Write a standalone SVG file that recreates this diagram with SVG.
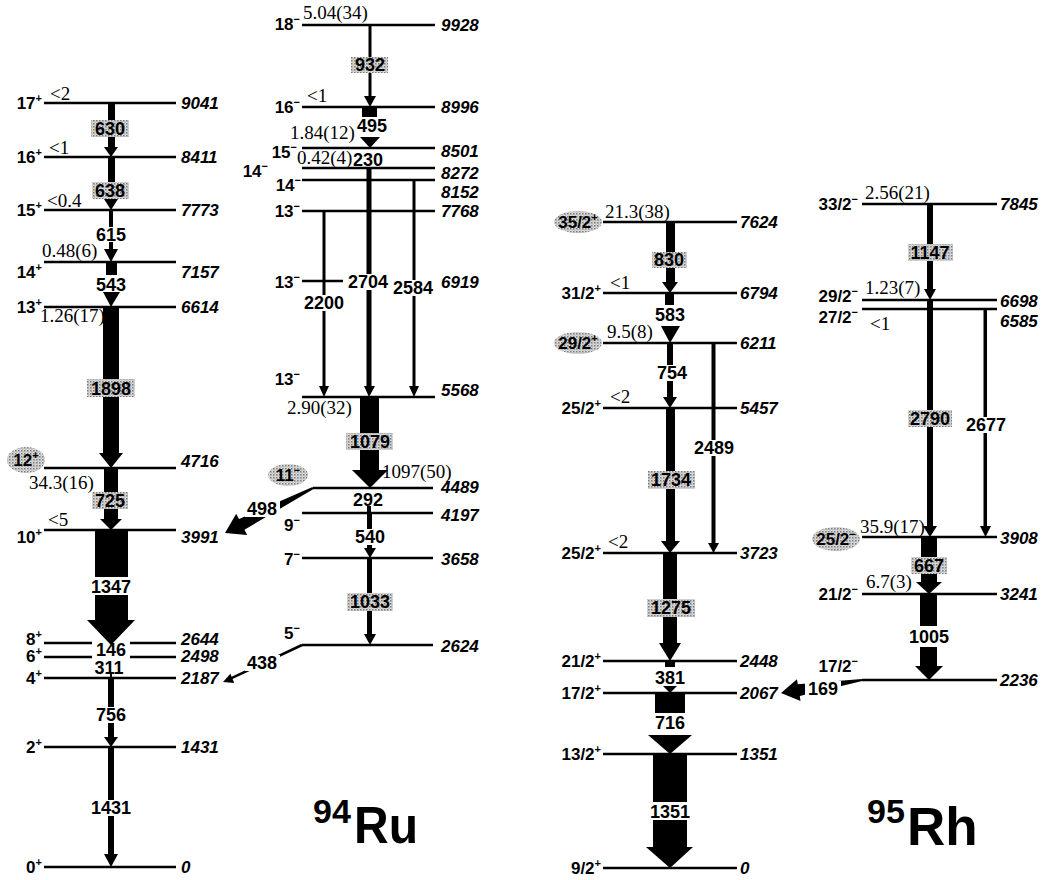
<svg xmlns="http://www.w3.org/2000/svg" width="1046" height="880" viewBox="0 0 1046 880">
<defs>
<pattern id="dots" width="3" height="3" patternUnits="userSpaceOnUse">
<rect width="3" height="3" fill="#dcdcdc"/>
<rect width="1.5" height="1.5" fill="#7a7a7a"/>
<rect x="1.5" y="1.5" width="1" height="1" fill="#9a9a9a"/>
</pattern>
<style>
.lv{stroke:#000;stroke-width:2.5;fill:none}
.sp{font-family:"Liberation Sans",Arial,sans-serif;font-weight:bold;font-size:17px;text-anchor:end;fill:#000}
.spc{font-family:"Liberation Sans",Arial,sans-serif;font-weight:bold;font-size:17px;text-anchor:middle;fill:#000}
.sup{font-size:11px}
.en{font-family:"Liberation Sans",Arial,sans-serif;font-weight:bold;font-style:italic;font-size:17px;fill:#000}
.in{font-family:"Liberation Serif","Times New Roman",serif;font-size:19px;fill:#000}
.tr{font-family:"Liberation Sans",Arial,sans-serif;font-weight:bold;font-size:18px;text-anchor:middle;fill:#000}
.bx{fill:url(#dots)}
.ov{fill:url(#dots)}
.wb{fill:#fff}
.ar{fill:#000}
.sl{stroke:#000;stroke-width:2.5;fill:none}
.nuc{font-family:"Liberation Sans",Arial,sans-serif;font-weight:bold;fill:#000}
</style>
</defs>
<rect width="1046" height="880" fill="#fff"/>

<g id="connectors">
<!-- 94Ru ground band -->
<rect class="ar" x="108" y="103" width="7" height="45"/>
<polygon class="ar" points="104,147 118,147 111,157"/>
<rect class="bx" x="91" y="120" width="38" height="17"/>
<text class="tr" x="110" y="135">630</text>

<rect class="ar" x="108" y="157" width="7" height="42"/>
<polygon class="ar" points="104,199 118,199 111,210"/>
<rect class="bx" x="92" y="182" width="37" height="17"/>
<text class="tr" x="110" y="197">638</text>

<rect class="ar" x="109" y="210" width="4" height="40"/>
<polygon class="ar" points="104,249 118,249 111,262"/>
<rect class="wb" x="95" y="227" width="32" height="15"/>
<text class="tr" x="111" y="241">615</text>

<rect class="ar" x="106" y="262" width="11" height="13"/>
<polygon class="ar" points="103,292 120,292 111,307"/>
<text class="tr" x="111" y="291">543</text>

<rect class="ar" x="103" y="307" width="16" height="147"/>
<polygon class="ar" points="99,453 123,453 111,468"/>
<rect class="bx" x="87" y="379" width="48" height="18"/>
<text class="tr" x="111" y="395">1898</text>

<rect class="ar" x="104" y="468" width="14" height="52"/>
<polygon class="ar" points="100,519 122,519 111,530"/>
<rect class="bx" x="92" y="492" width="36" height="17"/>
<text class="tr" x="110" y="507">725</text>

<rect class="ar" x="95" y="530" width="33" height="47"/>
<rect class="ar" x="95" y="595" width="33" height="26"/>
<polygon class="ar" points="87,620 135,620 111,645"/>
<text class="tr" x="111" y="593">1347</text>

<text class="tr" x="111" y="656">146</text>
<rect class="ar" x="110" y="674" width="2" height="4"/>
<text class="tr" x="109" y="674">311</text>

<rect class="ar" x="108" y="678" width="6" height="60"/>
<polygon class="ar" points="104,737 118,737 111,747"/>
<rect class="wb" x="94" y="707" width="34" height="16"/>
<text class="tr" x="111" y="721">756</text>

<rect class="ar" x="108" y="747" width="6" height="108"/>
<polygon class="ar" points="104,854 118,854 111,867"/>
<rect class="wb" x="90" y="800" width="42" height="16"/>
<text class="tr" x="111" y="814">1431</text>

<!-- 94Ru side band -->
<rect class="ar" x="368.5" y="25" width="3" height="72"/>
<polygon class="ar" points="364,96 376,96 370,107"/>
<rect class="bx" x="351" y="57" width="37" height="16"/>
<text class="tr" x="370" y="71">932</text>

<rect class="ar" x="362" y="107" width="15" height="10"/>
<polygon class="ar" points="360,137 380,137 370,148"/>
<text class="tr" x="372" y="132">495</text>

<text class="tr" x="368" y="166">230</text>

<rect class="ar" x="366.5" y="168" width="5" height="219"/>
<polygon class="ar" points="364,386 375,386 369,397"/>
<rect class="wb" x="347" y="274" width="43" height="16"/>
<text class="tr" x="368" y="288">2704</text>

<rect class="ar" x="412.5" y="180" width="3" height="207"/>
<polygon class="ar" points="409,386 419,386 414,397"/>
<rect class="wb" x="392" y="280" width="43" height="16"/>
<text class="tr" x="413" y="294">2584</text>

<rect class="ar" x="322.5" y="211" width="3" height="176"/>
<polygon class="ar" points="319,386 329,386 324,397"/>
<rect class="wb" x="302" y="295" width="44" height="16"/>
<text class="tr" x="324" y="309">2200</text>

<rect class="ar" x="360" y="397" width="19" height="74"/>
<polygon class="ar" points="352,470 388,470 370,488"/>
<rect class="bx" x="346" y="433" width="47" height="17"/>
<text class="tr" x="370" y="448">1079</text>

<rect class="ar" x="367" y="506" width="4" height="7"/>
<text class="tr" x="368" y="506">292</text>

<polygon class="ar" points="312.5,487.1 239,519.1 236.2,513.7 225,533 247.2,535.1 244.4,529.8 313.5,488.9"/>
<rect class="wb" x="245" y="501" width="35" height="16"/>
<text class="tr" x="262" y="515">498</text>

<rect class="ar" x="367" y="513" width="5" height="36"/>
<polygon class="ar" points="364,548 376,548 370,558"/>
<rect class="wb" x="353" y="529" width="34" height="16"/>
<text class="tr" x="370" y="543">540</text>

<rect class="ar" x="367" y="558" width="5" height="77"/>
<polygon class="ar" points="364,634 376,634 370,645"/>
<rect class="bx" x="347" y="593" width="46" height="18"/>
<text class="tr" x="370" y="608">1033</text>

<line class="sl" x1="302" y1="645" x2="231" y2="678.3"/>
<polygon class="ar" points="223,682 234.2,682.9 230.4,673.7"/>
<rect class="wb" x="245" y="655" width="35" height="16"/>
<text class="tr" x="262" y="669">438</text>

<!-- 95Rh positive parity band -->
<rect class="ar" x="666" y="222" width="9" height="61"/>
<polygon class="ar" points="662,282 678,282 670,293"/>
<rect class="bx" x="652" y="252" width="35" height="16"/>
<text class="tr" x="669" y="266">830</text>

<rect class="ar" x="665" y="293" width="9" height="12"/>
<polygon class="ar" points="661,326 680,326 670,343"/>
<text class="tr" x="670" y="321">583</text>

<rect class="ar" x="667" y="343" width="6" height="55"/>
<polygon class="ar" points="663,397 677,397 670,408"/>
<rect class="wb" x="655" y="365" width="34" height="16"/>
<text class="tr" x="672" y="379">754</text>

<rect class="ar" x="711.5" y="343" width="4" height="201"/>
<polygon class="ar" points="708,543 719,543 713.5,553"/>
<rect class="wb" x="692" y="440" width="44" height="16"/>
<text class="tr" x="714" y="454">2489</text>

<rect class="ar" x="666" y="408" width="9" height="134"/>
<polygon class="ar" points="661,541 680,541 670,553"/>
<rect class="bx" x="648" y="471" width="47" height="18"/>
<text class="tr" x="671" y="486">1734</text>

<rect class="ar" x="663" y="553" width="14" height="91"/>
<polygon class="ar" points="659,643 681,643 670,661"/>
<rect class="bx" x="647" y="599" width="48" height="18"/>
<text class="tr" x="671" y="614">1275</text>

<rect class="ar" x="665" y="661" width="10" height="6"/>
<polygon class="ar" points="663,686 677,686 670,693"/>
<text class="tr" x="670" y="684">381</text>

<rect class="ar" x="655" y="693" width="30" height="20"/>
<polygon class="ar" points="648,735 692,735 670,754"/>
<text class="tr" x="670" y="729">716</text>

<rect class="ar" x="653" y="754" width="34" height="48"/>
<rect class="ar" x="653" y="820" width="34" height="28"/>
<polygon class="ar" points="646,847 693,847 670,868"/>
<text class="tr" x="670" y="818">1351</text>

<!-- 95Rh negative parity band -->
<rect class="ar" x="927" y="204" width="6" height="86"/>
<polygon class="ar" points="924,289 936,289 930,300"/>
<rect class="bx" x="908" y="244" width="45" height="17"/>
<text class="tr" x="930" y="259">1147</text>

<rect class="ar" x="927" y="300" width="6" height="227"/>
<polygon class="ar" points="923,526 937,526 930,537"/>
<rect class="bx" x="908" y="410" width="44" height="17"/>
<text class="tr" x="930" y="425">2790</text>

<rect class="ar" x="983.5" y="309" width="3.5" height="218"/>
<polygon class="ar" points="980,526 991,526 985.5,537"/>
<rect class="wb" x="964" y="417" width="44" height="16"/>
<text class="tr" x="986" y="431">2677</text>

<rect class="ar" x="921" y="537" width="16" height="46"/>
<polygon class="ar" points="916,582 942,582 929,594"/>
<rect class="bx" x="911" y="557" width="36" height="17"/>
<text class="tr" x="929" y="572">667</text>

<rect class="ar" x="920" y="594" width="17" height="32"/>
<rect class="ar" x="920" y="647" width="17" height="21"/>
<polygon class="ar" points="915,666 943,666 929,680"/>
<text class="tr" x="929" y="643">1005</text>

<polygon class="ar" points="861.8,679 797.8,684.3 797,679.3 781,693 800.5,701.1 799.8,696.1 862.2,681"/>
<rect class="wb" x="805" y="681" width="36" height="16"/>
<text class="tr" x="823" y="695">169</text>
</g>

<!-- 94Ru ground band levels -->
<g id="ru-17p"><line class="lv" x1="44" y1="103" x2="176" y2="103"/><text class="sp" x="42" y="109">17<tspan class="sup" dy="-7">+</tspan></text><text class="en" x="181" y="109">9041</text><text class="in" x="50" y="100">&lt;2</text></g>
<g id="ru-16p"><line class="lv" x1="44" y1="157" x2="176" y2="157"/><text class="sp" x="42" y="163">16<tspan class="sup" dy="-7">+</tspan></text><text class="en" x="181" y="163">8411</text><text class="in" x="49" y="154">&lt;1</text></g>
<g id="ru-15p"><line class="lv" x1="44" y1="210" x2="176" y2="210"/><text class="sp" x="42" y="216">15<tspan class="sup" dy="-7">+</tspan></text><text class="en" x="181" y="216">7773</text><text class="in" x="47" y="207">&lt;0.4</text></g>
<g id="ru-14p"><line class="lv" x1="44" y1="262" x2="176" y2="262"/><text class="sp" x="42" y="278">14<tspan class="sup" dy="-7">+</tspan></text><text class="en" x="181" y="278">7157</text><text class="in" x="42" y="257">0.48(6)</text></g>
<g id="ru-13p"><line class="lv" x1="44" y1="307" x2="176" y2="307"/><text class="sp" x="42" y="313">13<tspan class="sup" dy="-7">+</tspan></text><text class="en" x="181" y="313">6614</text><text class="in" x="40" y="322">1.26(17)</text></g>
<g id="ru-12p"><line class="lv" x1="44" y1="468" x2="176" y2="468"/><ellipse class="ov" cx="26" cy="460" rx="19" ry="13"/><text class="spc" x="26" y="466">12<tspan class="sup" dy="-7">+</tspan></text><text class="en" x="181" y="467">4716</text><text class="in" x="29" y="489">34.3(16)</text></g>
<g id="ru-10p"><line class="lv" x1="44" y1="530" x2="176" y2="530"/><text class="sp" x="42" y="543">10<tspan class="sup" dy="-7">+</tspan></text><text class="en" x="181" y="543">3991</text><text class="in" x="48" y="526">&lt;5</text></g>
<g id="ru-8p"><line class="lv" x1="44" y1="643" x2="92" y2="643"/><line class="lv" x1="130" y1="643" x2="176" y2="643"/><text class="sp" x="42" y="645">8<tspan class="sup" dy="-7">+</tspan></text><text class="en" x="181" y="645">2644</text></g>
<g id="ru-6p"><line class="lv" x1="44" y1="657" x2="92" y2="657"/><line class="lv" x1="130" y1="657" x2="176" y2="657"/><text class="sp" x="42" y="662">6<tspan class="sup" dy="-7">+</tspan></text><text class="en" x="181" y="662">2498</text></g>
<g id="ru-4p"><line class="lv" x1="44" y1="678" x2="176" y2="678"/><text class="sp" x="42" y="684">4<tspan class="sup" dy="-7">+</tspan></text><text class="en" x="181" y="684">2187</text></g>
<g id="ru-2p"><line class="lv" x1="44" y1="747" x2="176" y2="747"/><text class="sp" x="42" y="753">2<tspan class="sup" dy="-7">+</tspan></text><text class="en" x="181" y="753">1431</text></g>
<g id="ru-0p"><line class="lv" x1="44" y1="867" x2="176" y2="867"/><text class="sp" x="42" y="873">0<tspan class="sup" dy="-7">+</tspan></text><text class="en" x="181" y="873">0</text></g>

<!-- 94Ru negative parity levels -->
<g id="ru-18m"><line class="lv" x1="302" y1="25" x2="435" y2="25"/><text class="sp" x="300" y="30">18<tspan class="sup" dy="-7">−</tspan></text><text class="en" x="441" y="31">9928</text><text class="in" x="303" y="19">5.04(34)</text></g>
<g id="ru-16m"><line class="lv" x1="302" y1="107" x2="435" y2="107"/><text class="sp" x="300" y="113">16<tspan class="sup" dy="-7">−</tspan></text><text class="en" x="441" y="113">8996</text><text class="in" x="307" y="102">&lt;1</text></g>
<g id="ru-15m"><line class="lv" x1="302" y1="148" x2="435" y2="148"/><text class="sp" x="297" y="158">15<tspan class="sup" dy="-7">−</tspan></text><text class="en" x="441" y="157">8501</text><text class="in" x="290" y="139">1.84(12)</text></g>
<g id="ru-14m-8272"><line class="lv" x1="302" y1="168" x2="435" y2="168"/><text class="sp" x="268" y="177">14<tspan class="sup" dy="-7">−</tspan></text><text class="en" x="441" y="179">8272</text><text class="in" x="297" y="164" font-size="18">0.42(4)</text></g>
<g id="ru-14m-8152"><line class="lv" x1="302" y1="180" x2="435" y2="180"/><text class="sp" x="301" y="191">14<tspan class="sup" dy="-7">−</tspan></text><text class="en" x="441" y="198">8152</text></g>
<g id="ru-13m-7768"><line class="lv" x1="302" y1="211" x2="435" y2="211"/><text class="sp" x="300" y="217">13<tspan class="sup" dy="-7">−</tspan></text><text class="en" x="441" y="217">7768</text></g>
<g id="ru-13m-6919"><line class="lv" x1="302" y1="281" x2="343" y2="281"/><text class="sp" x="300" y="288">13<tspan class="sup" dy="-7">−</tspan></text><text class="en" x="441" y="288">6919</text></g>
<g id="ru-13m-5568"><line class="lv" x1="302" y1="397" x2="435" y2="397"/><text class="sp" x="300" y="385">13<tspan class="sup" dy="-7">−</tspan></text><text class="en" x="441" y="396">5568</text><text class="in" x="287" y="414">2.90(32)</text></g>
<g id="ru-11m"><line class="lv" x1="313" y1="488" x2="433" y2="488"/><ellipse class="ov" cx="288" cy="475" rx="20" ry="11"/><text class="spc" x="288" y="481">11<tspan class="sup" dy="-7">−</tspan></text><text class="en" x="441" y="493">4489</text><text class="in" x="382" y="478">1097(50)</text></g>
<g id="ru-9m"><line class="lv" x1="302" y1="513" x2="433" y2="513"/><text class="sp" x="300" y="531">9<tspan class="sup" dy="-7">−</tspan></text><text class="en" x="441" y="521">4197</text></g>
<g id="ru-7m"><line class="lv" x1="302" y1="558" x2="433" y2="558"/><text class="sp" x="300" y="565">7<tspan class="sup" dy="-7">−</tspan></text><text class="en" x="441" y="565">3658</text></g>
<g id="ru-5m"><line class="lv" x1="302" y1="645" x2="433" y2="645"/><text class="sp" x="300" y="639">5<tspan class="sup" dy="-7">−</tspan></text><text class="en" x="441" y="652">2624</text></g>

<!-- 95Rh positive parity levels -->
<g id="rh-35p"><line class="lv" x1="603" y1="222" x2="737" y2="222"/><ellipse class="ov" cx="578" cy="222" rx="24" ry="11"/><text class="spc" x="578" y="228">35/2<tspan class="sup" dy="-7">+</tspan></text><text class="en" x="740" y="228">7624</text><text class="in" x="605" y="218">21.3(38)</text></g>
<g id="rh-31p"><line class="lv" x1="603" y1="293" x2="737" y2="293"/><text class="sp" x="601" y="299">31/2<tspan class="sup" dy="-7">+</tspan></text><text class="en" x="740" y="299">6794</text><text class="in" x="610" y="289">&lt;1</text></g>
<g id="rh-29p"><line class="lv" x1="603" y1="343" x2="737" y2="343"/><ellipse class="ov" cx="578" cy="343" rx="24" ry="11"/><text class="spc" x="578" y="349">29/2<tspan class="sup" dy="-7">+</tspan></text><text class="en" x="740" y="349">6211</text><text class="in" x="607" y="338">9.5(8)</text></g>
<g id="rh-25p-5457"><line class="lv" x1="603" y1="408" x2="737" y2="408"/><text class="sp" x="601" y="414">25/2<tspan class="sup" dy="-7">+</tspan></text><text class="en" x="740" y="414">5457</text><text class="in" x="610" y="403">&lt;2</text></g>
<g id="rh-25p-3723"><line class="lv" x1="603" y1="553" x2="737" y2="553"/><text class="sp" x="601" y="559">25/2<tspan class="sup" dy="-7">+</tspan></text><text class="en" x="740" y="559">3723</text><text class="in" x="608" y="548">&lt;2</text></g>
<g id="rh-21p"><line class="lv" x1="603" y1="661" x2="737" y2="661"/><text class="sp" x="601" y="667">21/2<tspan class="sup" dy="-7">+</tspan></text><text class="en" x="740" y="667">2448</text></g>
<g id="rh-17p"><line class="lv" x1="603" y1="693" x2="737" y2="693"/><text class="sp" x="601" y="699">17/2<tspan class="sup" dy="-7">+</tspan></text><text class="en" x="740" y="699">2067</text></g>
<g id="rh-13p"><line class="lv" x1="603" y1="754" x2="737" y2="754"/><text class="sp" x="601" y="760">13/2<tspan class="sup" dy="-7">+</tspan></text><text class="en" x="740" y="760">1351</text></g>
<g id="rh-9p"><line class="lv" x1="603" y1="868" x2="737" y2="868"/><text class="sp" x="601" y="874">9/2<tspan class="sup" dy="-7">+</tspan></text><text class="en" x="740" y="874">0</text></g>

<!-- 95Rh negative parity levels -->
<g id="rh-33m"><line class="lv" x1="862" y1="204" x2="997" y2="204"/><text class="sp" x="858" y="210">33/2<tspan class="sup" dy="-7">−</tspan></text><text class="en" x="1000" y="210">7845</text><text class="in" x="865" y="199">2.56(21)</text></g>
<g id="rh-29m"><line class="lv" x1="862" y1="300" x2="997" y2="300"/><text class="sp" x="858" y="302">29/2<tspan class="sup" dy="-7">−</tspan></text><text class="en" x="1000" y="307">6698</text><text class="in" x="865" y="294">1.23(7)</text></g>
<g id="rh-27m"><line class="lv" x1="862" y1="309" x2="997" y2="309"/><text class="sp" x="858" y="323">27/2<tspan class="sup" dy="-7">−</tspan></text><text class="en" x="1000" y="327">6585</text><text class="in" x="870" y="330">&lt;1</text></g>
<g id="rh-25m"><line class="lv" x1="862" y1="537" x2="997" y2="537"/><ellipse class="ov" cx="836" cy="539" rx="24" ry="12"/><text class="spc" x="836" y="545">25/2<tspan class="sup" dy="-7">−</tspan></text><text class="en" x="1000" y="544">3908</text><text class="in" x="860" y="533">35.9(17)</text></g>
<g id="rh-21m"><line class="lv" x1="862" y1="594" x2="997" y2="594"/><text class="sp" x="858" y="600">21/2<tspan class="sup" dy="-7">−</tspan></text><text class="en" x="1000" y="600">3241</text><text class="in" x="866" y="588">6.7(3)</text></g>
<g id="rh-17m"><line class="lv" x1="862" y1="680" x2="997" y2="680"/><text class="sp" x="858" y="672">17/2<tspan class="sup" dy="-7">−</tspan></text><text class="en" x="1000" y="686">2236</text></g>

<g id="label-94Ru"><text class="nuc" x="313" y="823" font-size="34">94</text><text class="nuc" x="354" y="843" font-size="52" textLength="64" lengthAdjust="spacingAndGlyphs">Ru</text></g>
<g id="label-95Rh"><text class="nuc" x="867" y="823" font-size="34">95</text><text class="nuc" x="907" y="845" font-size="53">Rh</text></g>
</svg>
